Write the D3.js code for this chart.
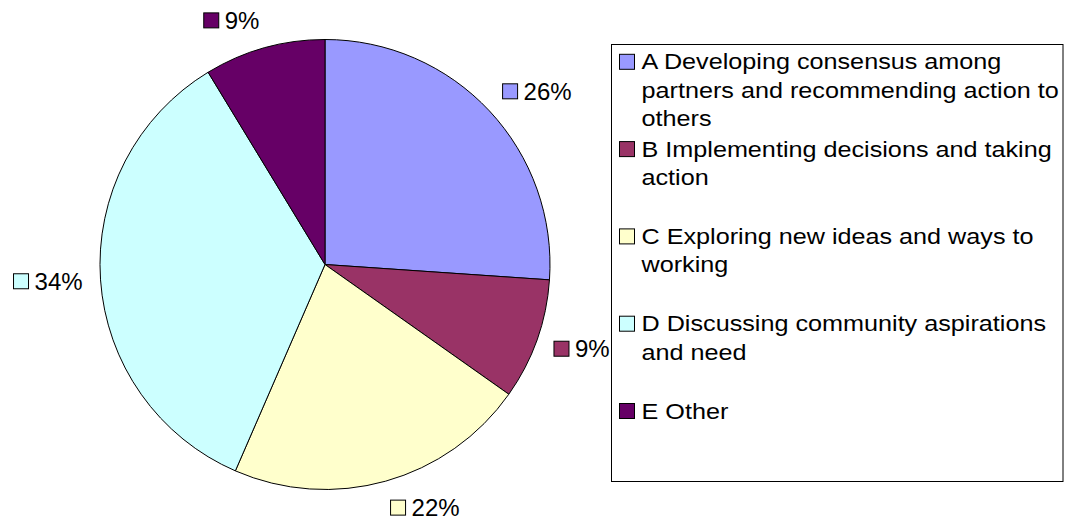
<!DOCTYPE html>
<html>
<head>
<meta charset="utf-8">
<script src="https://cdn.jsdelivr.net/npm/d3@7"></script>
<style>
  body { margin: 0; background: #fff; }
  text { font-family: "Liberation Sans", Arial, sans-serif; fill: #000; }
</style>
</head>
<body>
<div id="chart"></div>
<script>
// Chart data
const categories = ["A", "B", "C", "D", "E"];
const values = [12, 4, 10, 16, 4];
const pctLabels = ["26%", "9%", "22%", "34%", "9%"];
const legendLines = [
  ["A Developing consensus among", "partners and recommending action to", "others"],
  ["B Implementing decisions and taking", "action"],
  ["C Exploring new ideas and ways to", "working"],
  ["D Discussing community aspirations", "and need"],
  ["E Other"]
];
const colors = ["#9999FF", "#993366", "#FFFFCC", "#CCFFFF", "#660066"];

const width = 1073, height = 523;
const cx = 325, cy = 264.5, radius = 225;

const svg = d3.select("#chart")
  .append("svg")
  .attr("width", width)
  .attr("height", height);

const color = d3.scaleOrdinal().domain(categories).range(colors);

const pie = d3.pie().sort(null).value(d => d.value);
const arcs = pie(categories.map((c, i) => ({ cat: c, value: values[i], label: pctLabels[i] })));

const arc = d3.arc().innerRadius(0).outerRadius(radius);

const pieG = svg.append("g")
  .attr("transform", `translate(${cx},${cy})`);

pieG.selectAll("path")
  .data(arcs)
  .join("path")
  .attr("d", arc)
  .attr("fill", d => color(d.data.cat))
  .attr("stroke", "#000")
  .attr("stroke-width", 1);

// Data labels outside the pie
const labelR = radius + 18;
const boxSize = 15, gap = 6;
arcs.forEach(d => {
  const a = (d.startAngle + d.endAngle) / 2;
  const px = labelR * Math.sin(a), py = -labelR * Math.cos(a);
  const g = pieG.append("g");
  const t = g.append("text")
    .attr("font-size", 24)
    .text(d.data.label);
  const w = boxSize + gap + t.node().getComputedTextLength();
  const x0 = Math.sin(a) >= 0 ? px : px - w;
  const yc = py - Math.cos(a) * 10;
  g.insert("rect", "text")
    .attr("x", x0)
    .attr("y", yc - 8)
    .attr("width", boxSize)
    .attr("height", boxSize)
    .attr("fill", color(d.data.cat))
    .attr("stroke", "#000")
    .attr("stroke-width", 1);
  t.attr("x", x0 + boxSize + gap).attr("y", yc + 8);
});

// Legend
const legend = svg.append("g");
legend.append("rect")
  .attr("x", 611.5)
  .attr("y", 44.5)
  .attr("width", 451.5)
  .attr("height", 437)
  .attr("fill", "#fff")
  .attr("stroke", "#000")
  .attr("stroke-width", 1);

const itemStep = 87.3, lineH = 28.3, firstBase = 69.3;
categories.forEach((c, i) => {
  const base = firstBase + i * itemStep;
  legend.append("rect")
    .attr("x", 619.5)
    .attr("y", base - 15)
    .attr("width", 15)
    .attr("height", 15)
    .attr("fill", color(c))
    .attr("stroke", "#000")
    .attr("stroke-width", 1);
  legendLines[i].forEach((line, j) => {
    legend.append("text")
      .attr("transform", `translate(641.5,${base + j * lineH}) scale(1.13,1)`)
      .attr("font-size", 22.3)
      .text(line);
  });
});
</script>
</body>
</html>
